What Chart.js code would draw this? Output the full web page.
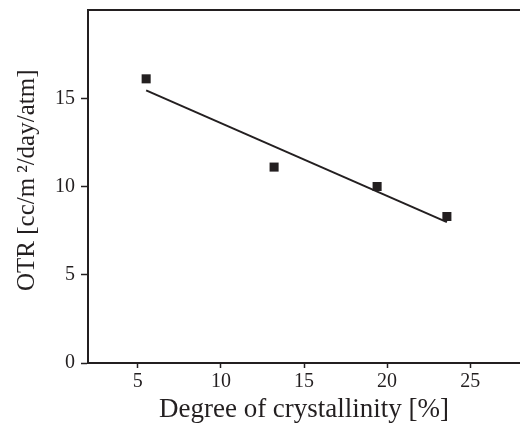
<!DOCTYPE html>
<html>
<head>
<meta charset="utf-8">
<script src="https://cdn.jsdelivr.net/npm/chart.js@4.4.1/dist/chart.umd.min.js"></script>
<style>
html,body{margin:0;padding:0;background:#fff;overflow:hidden;}
canvas{display:block;}
</style>
</head>
<body>
<canvas id="c" width="520" height="426"></canvas>
<script>
// Data
const crystallinity = [5.5, 13.2, 19.4, 23.6];
const otr = [16.1, 11.1, 10.0, 8.3];
const fitX = [5.5, 23.6];
const fitY = [15.45, 7.98];
const xTicks = [5, 10, 15, 20, 25];
const yTicks = [0, 5, 10, 15];

const ink = '#231f20';
const serif = "'Liberation Serif', 'Times New Roman', serif";

function noPad(s) { s.paddingLeft = 0; s.paddingRight = 0; s.paddingTop = 0; s.paddingBottom = 0; }

new Chart(document.getElementById('c'), {
  type: 'scatter',
  data: {
    datasets: [
      {
        label: 'OTR',
        data: crystallinity.map((x, i) => ({x: x, y: otr[i]})),
        pointStyle: 'rect',
        pointRadius: 6.4,
        pointHoverRadius: 6.4,
        backgroundColor: ink,
        borderColor: ink,
        borderWidth: 0,
        showLine: false
      },
      {
        label: 'fit',
        data: fitX.map((x, i) => ({x: x, y: fitY[i]})),
        showLine: true,
        borderColor: ink,
        borderWidth: 2,
        pointRadius: 0,
        fill: false
      }
    ]
  },
  options: {
    responsive: false,
    animation: false,
    events: [],
    layout: {autoPadding: false, padding: {top: 10, right: 0, left: 0, bottom: 0}},
    plugins: {legend: {display: false}, tooltip: {enabled: false}},
    scales: {
      x: {
        type: 'linear',
        min: 2, max: 28,
        afterBuildTicks: s => { s.ticks = xTicks.map(v => ({value: v})); },
        afterFit: s => { s.height = 63; noPad(s); },
        grid: {drawOnChartArea: false, drawTicks: true, tickLength: 5, tickColor: ink, tickWidth: 1.5},
        border: {display: true, color: ink, width: 2},
        ticks: {color: ink, font: {family: serif, size: 20}, padding: 2, maxRotation: 0},
        title: {display: true, text: 'Degree of crystallinity [%]', color: ink, font: {family: serif, size: 27}, padding: {top: 3, bottom: 0}}
      },
      x2: {
        type: 'linear',
        position: 'top',
        min: 2, max: 28,
        afterFit: s => { s.height = 0; noPad(s); },
        grid: {display: false, drawTicks: false},
        border: {display: true, color: ink, width: 2},
        ticks: {display: false}
      },
      y: {
        type: 'linear',
        min: 0, max: 20,
        afterBuildTicks: s => { s.ticks = yTicks.map(v => ({value: v})); },
        afterFit: s => { s.width = 88; noPad(s); },
        grid: {drawOnChartArea: false, drawTicks: true, tickLength: 7, tickColor: ink, tickWidth: 1.5},
        border: {display: true, color: ink, width: 2},
        ticks: {color: ink, font: {family: serif, size: 20}, padding: 6},
        title: {display: true, text: '  OTR [cc/m\u2009\u00B2/day/atm]', color: ink, font: {family: serif, size: 25}, padding: {top: 12, bottom: 0}}
      }
    }
  }
});
</script>
</body>
</html>
